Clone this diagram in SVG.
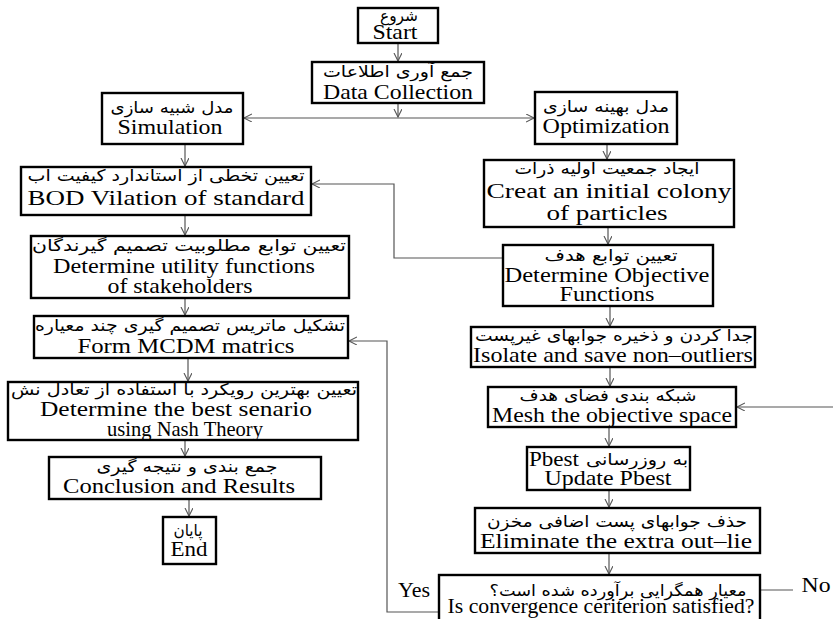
<svg xmlns="http://www.w3.org/2000/svg" width="833" height="619" viewBox="0 0 833 619">
<defs>
<marker id="ah" markerUnits="userSpaceOnUse" markerWidth="10" markerHeight="10" refX="8" refY="4" orient="auto">
<path d="M0,0 L8,4 L0,8" fill="none" stroke="#555" stroke-width="1.1"/>
</marker>
<style>
.box{fill:#fff;stroke:#000;stroke-width:2.4}
.en{font-family:"Liberation Serif","Times New Roman",serif;font-size:22px;text-anchor:middle;fill:#000}
.fa{font-family:"DejaVu Sans","Noto Sans",sans-serif;font-size:16px;text-anchor:middle;direction:rtl;fill:#000}
.c{fill:none;stroke:#555;stroke-width:1.2}
.a{marker-end:url(#ah)}
</style>
</defs>
<rect width="833" height="619" fill="#fff"/>
<g id="connectors">
<path class="c a" d="M398,43 V61"/>
<path class="c a" d="M398,103 V117"/>
<path class="c a" d="M398,118 H244"/>
<path class="c a" d="M398,118 H534"/>
<path class="c a" d="M185,144 V166"/>
<path class="c a" d="M185,215 V235"/>
<path class="c a" d="M185,298 V315"/>
<path class="c a" d="M188,358 V381"/>
<path class="c a" d="M185,440 V456"/>
<path class="c a" d="M189,499 V516"/>
<path class="c a" d="M607,144 V159"/>
<path class="c a" d="M608,227 V244"/>
<path class="c a" d="M503,258 H394 V184 H312"/>
<path class="c a" d="M610,306 V326"/>
<path class="c a" d="M610,367 V386"/>
<path class="c a" d="M833,407 H737"/>
<path class="c a" d="M609,427 V446"/>
<path class="c a" d="M609,490 V507"/>
<path class="c a" d="M609,553 V574"/>
<path class="c a" d="M439,612 H387 V341 H349"/>
<path class="c" d="M760,590 H793"/>
</g>
<g id="start">
<rect class="box" x="358" y="8" width="80" height="35"/>
<text class="fa" x="399" y="21" textLength="38" lengthAdjust="spacingAndGlyphs">شروع</text>
<text class="en" x="395" y="39" textLength="45" lengthAdjust="spacingAndGlyphs">Start</text>
</g>
<g id="data">
<rect class="box" x="312" y="62" width="172" height="41"/>
<text class="fa" x="398" y="77" textLength="150" lengthAdjust="spacingAndGlyphs">جمع آوری اطلاعات</text>
<text class="en" x="398" y="99" textLength="150" lengthAdjust="spacingAndGlyphs">Data Collection</text>
</g>
<g id="simulation">
<rect class="box" x="102" y="93" width="141" height="51"/>
<text class="fa" x="172" y="113" textLength="123" lengthAdjust="spacingAndGlyphs">مدل شبیه سازی</text>
<text class="en" x="170" y="134" textLength="105" lengthAdjust="spacingAndGlyphs">Simulation</text>
</g>
<g id="optimization">
<rect class="box" x="535" y="92" width="142" height="52"/>
<text class="fa" x="606" y="112" textLength="126" lengthAdjust="spacingAndGlyphs">مدل بهینه سازی</text>
<text class="en" x="606" y="133" textLength="127" lengthAdjust="spacingAndGlyphs">Optimization</text>
</g>
<g id="bod">
<rect class="box" x="21" y="167" width="290" height="48"/>
<text class="fa" x="166" y="181" textLength="277" lengthAdjust="spacingAndGlyphs">تعیین تخطی از استاندارد کیفیت آب</text>
<text class="en" x="166" y="205" textLength="277" lengthAdjust="spacingAndGlyphs">BOD Vilation of standard</text>
</g>
<g id="create">
<rect class="box" x="484" y="160" width="250" height="67"/>
<text class="fa" x="607" y="174" textLength="185" lengthAdjust="spacingAndGlyphs">ایجاد جمعیت اولیه ذرات</text>
<text class="en" x="609" y="198" textLength="245" lengthAdjust="spacingAndGlyphs">Creat an initial colony</text>
<text class="en" x="607" y="220" textLength="121" lengthAdjust="spacingAndGlyphs">of particles</text>
</g>
<g id="utility">
<rect class="box" x="31" y="236" width="318" height="62"/>
<text class="fa" x="189" y="251" textLength="314" lengthAdjust="spacingAndGlyphs">تعیین توابع مطلوبیت تصمیم گیرندگان</text>
<text class="en" x="184" y="273" textLength="262" lengthAdjust="spacingAndGlyphs">Determine utility functions</text>
<text class="en" x="180" y="293" textLength="145" lengthAdjust="spacingAndGlyphs">of stakeholders</text>
</g>
<g id="objective">
<rect class="box" x="503" y="245" width="210" height="61"/>
<text class="fa" x="611" y="261" textLength="133" lengthAdjust="spacingAndGlyphs">تعیین توابع هدف</text>
<text class="en" x="607" y="282" textLength="205" lengthAdjust="spacingAndGlyphs">Determine Objective</text>
<text class="en" x="607" y="301" textLength="95" lengthAdjust="spacingAndGlyphs">Functions</text>
</g>
<g id="mcdm">
<rect class="box" x="34" y="316" width="314" height="42"/>
<text class="fa" x="190" y="331" textLength="310" lengthAdjust="spacingAndGlyphs">تشکیل ماتریس تصمیم گیری چند معیاره</text>
<text class="en" x="186" y="353" textLength="217" lengthAdjust="spacingAndGlyphs">Form MCDM matrics</text>
</g>
<g id="isolate">
<rect class="box" x="471" y="327" width="284" height="40"/>
<text class="fa" x="614" y="341" textLength="278" lengthAdjust="spacingAndGlyphs">جدا کردن و ذخیره جوابهای غیرپست</text>
<text class="en" x="613" y="362" textLength="280" lengthAdjust="spacingAndGlyphs">Isolate and save non–outliers</text>
</g>
<g id="best">
<rect class="box" x="8" y="382" width="350" height="58"/>
<text class="fa" x="184" y="395" textLength="346" lengthAdjust="spacingAndGlyphs">تعیین بهترین رویکرد با استفاده از تعادل نش</text>
<text class="en" x="176" y="416" textLength="272" lengthAdjust="spacingAndGlyphs">Determine the best senario</text>
<text class="en" x="185" y="436" textLength="156" lengthAdjust="spacingAndGlyphs">using Nash Theory</text>
</g>
<g id="mesh">
<rect class="box" x="488" y="387" width="248" height="40"/>
<text class="fa" x="608" y="401" textLength="177" lengthAdjust="spacingAndGlyphs">شبکه بندی فضای هدف</text>
<text class="en" x="612" y="422" textLength="240" lengthAdjust="spacingAndGlyphs">Mesh the objective space</text>
</g>
<g id="conclusion">
<rect class="box" x="49" y="457" width="272" height="42"/>
<text class="fa" x="187" y="472" textLength="181" lengthAdjust="spacingAndGlyphs">جمع بندی و نتیجه گیری</text>
<text class="en" x="179" y="493" textLength="232" lengthAdjust="spacingAndGlyphs">Conclusion and Results</text>
</g>
<g id="pbest">
<rect class="box" x="527" y="447" width="163" height="43"/>
<text class="en" x="554" y="466" textLength="50" lengthAdjust="spacingAndGlyphs">Pbest</text>
<text class="fa" x="637" y="465" textLength="102" lengthAdjust="spacingAndGlyphs">به روزرسانی</text>
<text class="en" x="608" y="485" textLength="127" lengthAdjust="spacingAndGlyphs">Update Pbest</text>
</g>
<g id="end">
<rect class="box" x="163" y="517" width="53" height="47"/>
<text class="fa" x="188" y="536" textLength="29" lengthAdjust="spacingAndGlyphs">پایان</text>
<text class="en" x="189" y="556" textLength="37" lengthAdjust="spacingAndGlyphs">End</text>
</g>
<g id="eliminate">
<rect class="box" x="475" y="508" width="285" height="45"/>
<text class="fa" x="617" y="527" textLength="260" lengthAdjust="spacingAndGlyphs">حذف جوابهای پست اضافی مخزن</text>
<text class="en" x="616" y="548" textLength="272" lengthAdjust="spacingAndGlyphs">Eliminate the extra out–lie</text>
</g>
<g id="decision">
<rect class="box" x="439" y="575" width="321" height="60"/>
<text class="fa" x="618" y="596" textLength="257" lengthAdjust="spacingAndGlyphs">معیار همگرایی برآورده شده است؟</text>
<text class="en" x="601" y="613" textLength="307" lengthAdjust="spacingAndGlyphs">Is convergence ceriterion satisfied?</text>
</g>
<g id="labels">
<text class="en" x="414" y="597" textLength="32" lengthAdjust="spacingAndGlyphs">Yes</text>
<text class="en" x="816" y="592" textLength="29" lengthAdjust="spacingAndGlyphs">No</text>
</g>
</svg>
